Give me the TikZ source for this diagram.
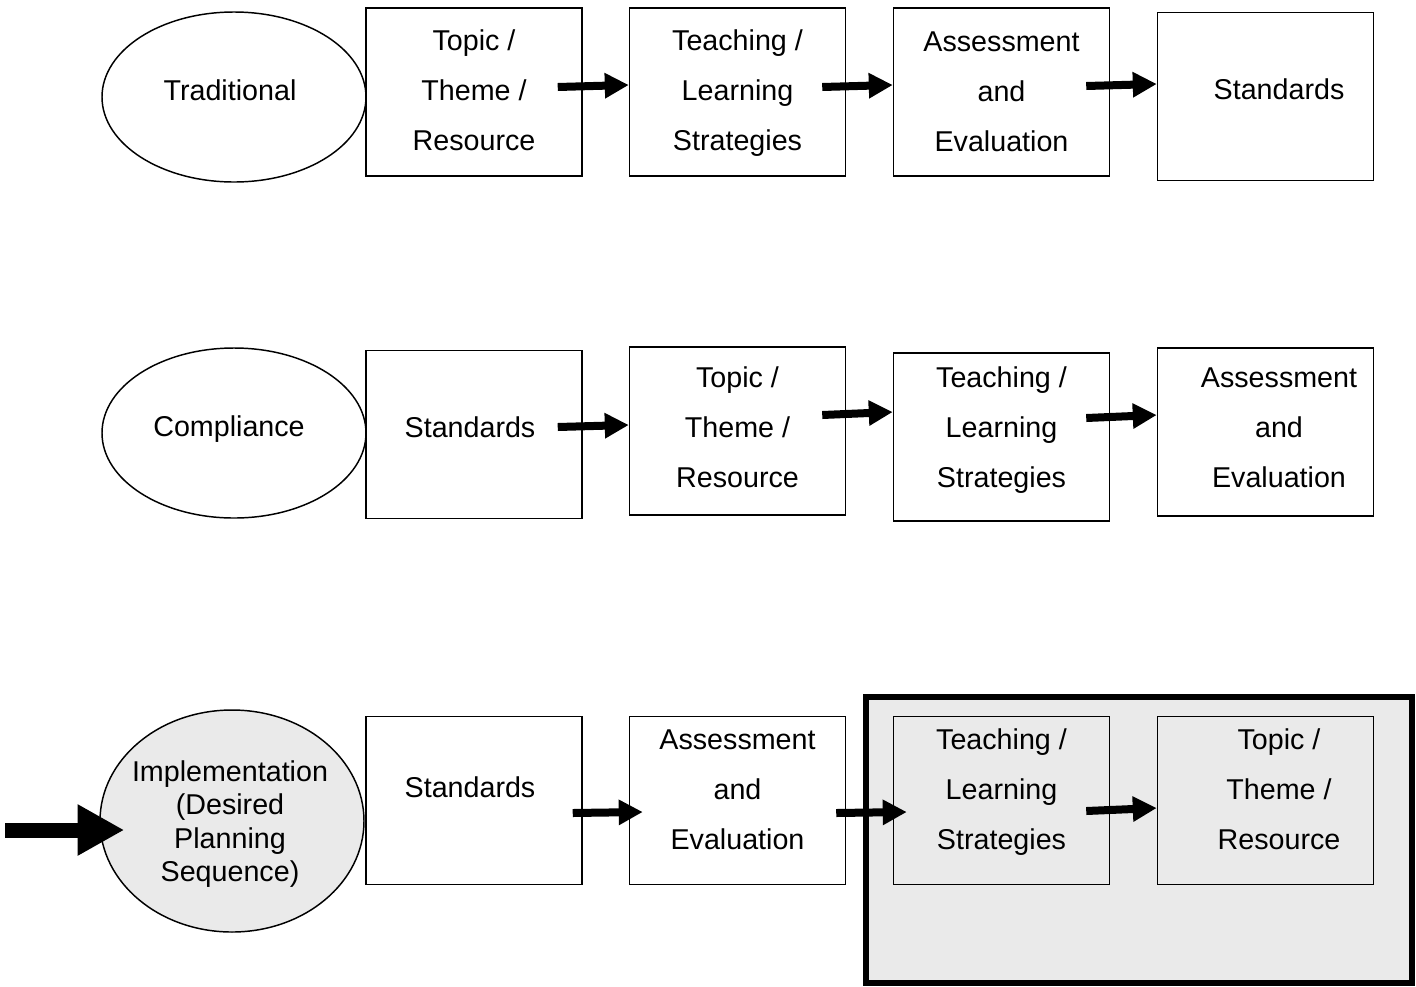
\documentclass[tikz,border=0pt]{standalone}
\usepackage{fontspec}
\setmainfont{Liberation Sans}
\usetikzlibrary{arrows.meta,shapes.geometric,calc}
\definecolor{paleGrey}{RGB}{234,234,234}
\begin{document}
\begin{tikzpicture}[x=0.75pt,y=0.75pt,yscale=-1,xscale=1,
  box/.style={draw,line width=1.1pt,minimum width=162pt,minimum height=126pt,inner sep=0pt},
  oval/.style={draw,ellipse,line width=1.1pt,minimum width=198pt,minimum height=127.5pt,inner sep=0pt},
  txt/.style={font=\fontsize{21.5}{37.5}\selectfont,align=center,inner sep=0pt},
  flow/.style={line width=6pt,-{Triangle[length=18pt,width=18pt]}},
  bigflow/.style={line width=11.25pt,-{Triangle[length=35pt,width=36pt]}}]
\useasboundingbox (0,0) rectangle (1416,986);

%Shape: Rectangle (shaded frame of the last row)
\node[draw,line width=4.5pt,fill=paleGrey,minimum width=409.5pt,minimum height=214.5pt,inner sep=0pt] (shade) at (1139,840) {};

%Shape: Ellipse
\node[oval] (trad) at (234,97) {};
\node[oval] (comp) at (234,433) {};
\node[oval,fill=paleGrey,minimum height=166.5pt] (impl) at (232,821) {};

%Shape: Rectangle
\node[box] (tA) at (474,92) {};
\node[box] (tB) at (737.5,92) {};
\node[box] (tC) at (1001.5,92) {};
\node[box] (tD) at (1265.5,96.5) {};
%Shape: Rectangle
\node[box] (cA) at (474,434.5) {};
\node[box] (cB) at (737.5,431) {};
\node[box] (cC) at (1001.5,437) {};
\node[box] (cD) at (1265.5,432) {};
%Shape: Rectangle
\node[box] (iA) at (474,800.5) {};
\node[box] (iB) at (737.5,800.5) {};
\node[box,fill=paleGrey] (iC) at (1001.5,800.5) {};
\node[box,fill=paleGrey] (iD) at (1265.5,800.5) {};

%Straight Lines
\draw[flow] ($(tA.east)+(-25,-5)$) -- ($(tB.west)+(0,-7)$);
\draw[flow] ($(tB.east)+(-24,-5)$) -- ($(tC.west)+(0,-7)$);
\draw[flow] ($(tC.east)+(-24,-6)$) -- ($(tD.west)+(0,-12.5)$);

%Straight Lines
\draw[flow] ($(cA.east)+(-25,-7.5)$) -- ($(cB.west)+(0,-6)$);
\draw[flow] ($(cB.east)+(-24,-16)$) -- ($(cC.west)+(0,-25)$);
\draw[flow] ($(cC.east)+(-24,-19)$) -- ($(cD.west)+(0,-17)$);

%Straight Lines
\coordinate (entry) at (5,830);
\draw[bigflow] (entry) -- ($(impl.west)+(25,9)$);
\draw[flow] ($(iA.east)+(-10,12.5)$) -- ($(iB.west)+(14,11.5)$);
\draw[flow] ($(iB.east)+(-10,12.5)$) -- ($(iC.west)+(14,11.5)$);
\draw[flow] ($(iC.east)+(-24,10.5)$) -- ($(iD.west)+(0,7.5)$);

% Text Node
\node[txt] (tradT) at (230,90) {Traditional};
\node[txt] (tAT) at (474,90) {Topic /\\Theme /\\Resource};
\node[txt] (tBT) at (737.5,93) {Teaching /\\Learning\\Strategies};
\node[txt] (tCT) at (1001.5,92) {Assessment\\and\\Evaluation};
\node[txt] (tDT) at (1279,89) {Standards};
% Text Node
\node[txt] (compT) at (229,429) {Compliance};
\node[txt] (cAT) at (470,427) {Standards};
\node[txt] (cBT) at (737.5,427) {Topic /\\Theme /\\Resource};
\node[txt] (cCT) at (1001.5,430) {Teaching /\\Learning\\Strategies};
\node[txt] (cDT) at (1279,428) {Assessment\\and\\Evaluation};
% Text Node
\node[txt,font=\fontsize{21.5}{25}\selectfont] (implT) at (230,824) {Implementation\\(Desired\\Planning\\Sequence)};
\node[txt] (iAT) at (470,787) {Standards};
\node[txt] (iBT) at (737.5,790) {Assessment\\and\\Evaluation};
\node[txt] (iCT) at (1001.5,792) {Teaching /\\Learning\\Strategies};
\node[txt] (iDT) at (1279,789) {Topic /\\Theme /\\Resource};

\end{tikzpicture}
\end{document}
